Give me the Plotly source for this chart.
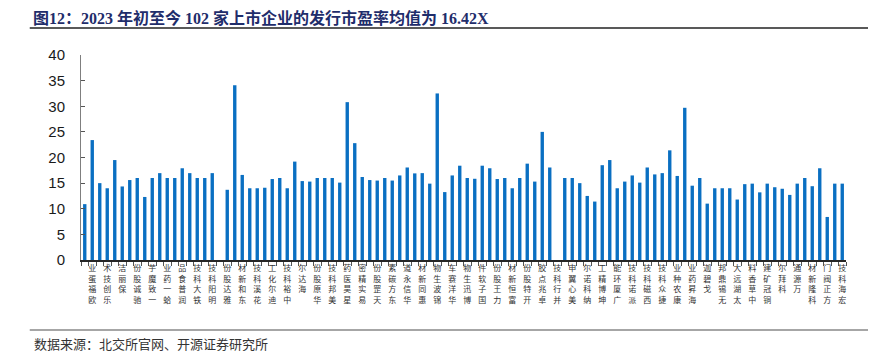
import plotly.graph_objects as go

# P/E at issue for each company slot (None = no value shown)
pe_values = [
    10.9, 23.4, 15.0, 14.0, 19.5, 14.35, 15.6, 16.0, 12.3, 16.0,
    16.95, 16.0, 16.0, 17.9, 16.95, 16.0, 16.0, 16.95, None, 13.7,
    34.1, 16.6, 14.0, 14.0, 14.1, 15.8, 16.0, 14.0, 19.2, 15.4,
    15.3, 16.0, 16.0, 16.0, 15.1, 30.8, 22.8, 16.2, 15.6, 15.5,
    16.0, 15.5, 16.5, 18.05, 16.9, 16.95, 14.9, 32.5, 13.25, 16.5,
    18.4, 16.0, 15.85, 18.4, 17.9, 15.8, 16.0, 14.0, 16.0, 18.8,
    15.3, 25.0, 18.05, None, 16.0, 16.0, 15.0, 12.5, 11.4, 18.5,
    19.5, 14.0, 15.3, 16.5, 15.1, 18.05, 16.7, 16.95, 21.4, 16.4,
    29.7, 14.5, 16.0, 11.0, 14.0, 14.0, 14.0, 11.8, 14.8, 14.9,
    13.2, 14.9, 14.2, 13.9, 12.7, 14.9, 16.0, 14.4, 17.9, 8.4,
    14.9, 14.9,
]

# Labels shown on the category axis (every other company)
tick_labels = [
    "欧福蛋业", "乐创技术", "保丽洁", "驰诚股份", "一致魔芋", "蛤一药业", "润普食品",
    "铁大科技", "明阳科技", "雅达股份", "东和新材", "花溪科技", "迪尔化工", "中裕科技",
    "海达尔", "华原股份", "美邦科技", "星昊医药", "易实精密", "天罡股份", "东方碳素",
    "华信永道", "惠同新材", "锦波生物", "华洋赛车", "博迅生物", "国子软件", "力王股份",
    "富恒新材", "开特股份", "卓兆点胶", "并行科技", "美心翼申", "纳科诺尔", "坤博精工",
    "广厦环能", "派诺科技", "西磁科技", "捷众科技", "康农种业", "海昇药业", "戈碧迦",
    "无锡鼎邦", "太湖远大", "中草香料", "铜冠矿建", "科拜尔", "万源通", "科隆新材",
    "方正阀门", "宏海科技",
]

y_ticks = [0, 5, 10, 15, 20, 25, 30, 35, 40]

title_text = "图12：2023 年初至今 102 家上市企业的发行市盈率均值为 16.42X"
source_text = "数据来源：北交所官网、开源证券研究所"

n = len(pe_values)
x_pos = list(range(n))
label_pos = [2 * k + 1 for k in range(len(tick_labels))]
# Upright stacked characters reading bottom-to-top (Excel 270° CJK text)
stacked = ["<br>".join(reversed(list(s))) for s in tick_labels]

fig = go.Figure()
fig.add_trace(go.Bar(
    x=x_pos, y=pe_values,
    marker=dict(color="#0A6FC2", line=dict(width=0)),
    hoverinfo="x+y",
))

# page body adds an 8px margin, so the figure is offset accordingly
fig.update_layout(
    width=868, height=349,
    margin=dict(l=73, r=30, t=47, b=97),
    paper_bgcolor="white", plot_bgcolor="white",
    bargap=0.55,
    showlegend=False,
    font=dict(family="Noto Sans CJK SC, sans-serif", color="#222222"),
)

fig.update_xaxes(
    range=[-0.5, n - 0.5],
    tickmode="array", tickvals=label_pos, ticktext=stacked,
    ticks="", tickangle=0,
    tickfont=dict(size=8, color="#333333", family="Noto Sans CJK SC"),
    showline=True, linecolor="#262626", linewidth=1.5,
    showgrid=False, zeroline=False, automargin=False,
    minor=dict(tickmode="array", tickvals=[i + 0.5 for i in range(-1, n)],
               ticks="outside", ticklen=4, tickcolor="#555555", tickwidth=1),
)

fig.update_yaxes(
    range=[0, 40],
    tickmode="array", tickvals=y_ticks,
    ticks="inside", ticklen=4, tickcolor="#555555",
    tickfont=dict(size=15, color="#1a1a1a", family="Liberation Sans, Arial"),
    ticklabelstandoff=12,
    showline=True, linecolor="#7F7F7F", linewidth=1,
    showgrid=False, zeroline=False, automargin=False,
)

# Title
fig.add_annotation(
    xref="paper", yref="paper", x=-0.064, y=1.229, yanchor="top", xanchor="left",
    text="<b>" + title_text + "</b>", showarrow=False, borderpad=0,
    font=dict(size=16, color="#1F2D6B", family="Liberation Serif, Noto Sans CJK SC"),
)
# Source
fig.add_annotation(
    xref="paper", yref="paper", x=-0.064, y=-0.405, yanchor="middle", xanchor="left",
    text=source_text, showarrow=False,
    font=dict(size=13, color="#333333", family="Noto Sans CJK SC"),
)
# Rules under title and above source
fig.add_shape(type="line", xref="paper", yref="paper",
              x0=-0.067, x1=1.05, y0=1.132, y1=1.132,
              line=dict(color="#222222", width=1.5))
fig.add_shape(type="line", xref="paper", yref="paper",
              x0=-0.067, x1=1.05, y0=-0.341, y1=-0.341,
              line=dict(color="#888888", width=1.5))

fig.write_html("out.html")
